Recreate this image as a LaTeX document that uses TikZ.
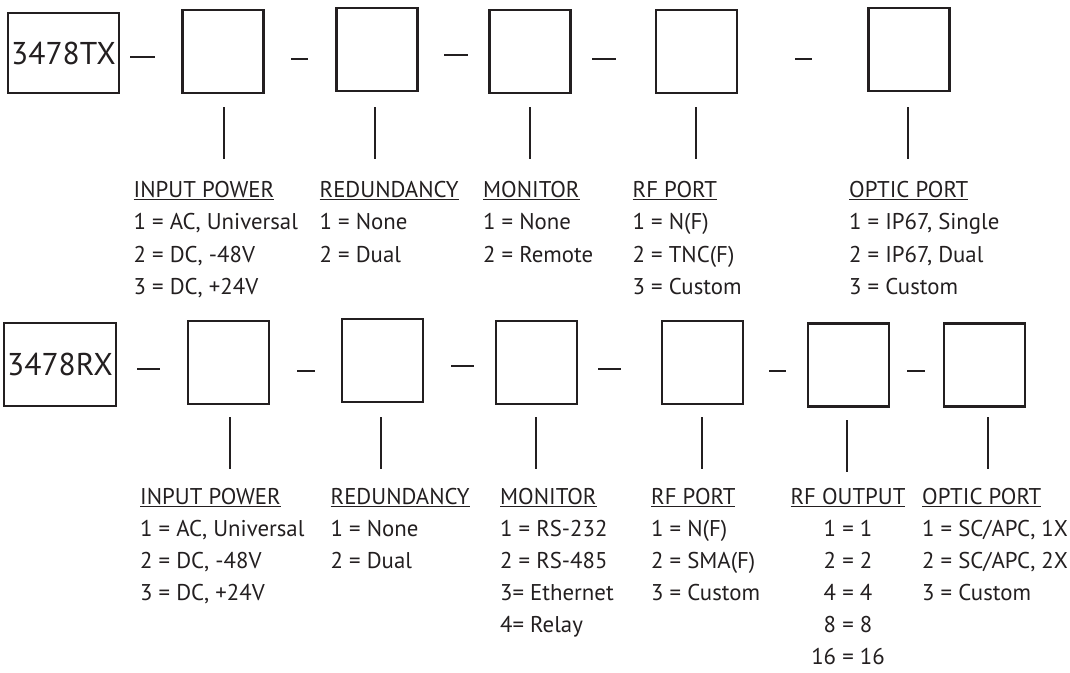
\documentclass[tikz,border=0pt]{standalone}
\usepackage{fontspec}
\setmainfont{PT Sans}
\definecolor{ink}{RGB}{35,31,32}
% heading with a thin rule under it
\newcommand\hdr[1]{\setbox0\hbox{#1}\rlap{\rule[-3pt]{\wd0}{1.2pt}}\box0}
\newcommand\colL[1]{\begin{tabular}[t]{@{}l@{}}#1\end{tabular}}
\newcommand\colC[1]{\begin{tabular}[t]{@{}c@{}}#1\end{tabular}}
\tikzset{
  slot/.style={draw=ink, line width=2.2pt, minimum width=81pt, minimum height=83pt, inner sep=0pt},
  code/.style={draw=ink, line width=1.6pt, inner sep=0pt, text=ink, font=\fontsize{31.5}{38}\selectfont},
  hyph/.style={draw=ink, line width=1.8pt},
  drop/.style={draw=ink, line width=2pt},
  legend/.style={anchor=base west, inner sep=0pt, text=ink, font=\fontsize{22.8}{32.5}\selectfont},
  legendlow/.style={legend, font=\fontsize{22.8}{32}\selectfont},
  legendc/.style={legendlow, anchor=base},
}
\begin{document}
\begin{tikzpicture}[x=1pt, y=-1pt]
\useasboundingbox (0,0) rectangle (1070,672);

% ---------- transmitter part number ----------
\node[code, minimum width=111pt, minimum height=80pt] (tx) at (63.5,53) {3478TX};
\node[slot] (t1) at (223,51.5) {};
\node[slot] (t2) at (377,49.7) {};
\node[slot] (t3) at (530,51.5) {};
\node[slot] (t4) at (696.5,51.5) {};
\node[slot] (t5) at (909,49.5) {};

\foreach \n/\a/\b/\y in {1/130/155/57, 2/291/308/59, 3/444/468/55, 4/592/616/59, 5/795/812/59}{
  \coordinate (tha\n) at (\a,\y);
  \coordinate (thb\n) at (\b,\y);
  \draw[hyph] (tha\n) -- (thb\n);
}
\foreach \n/\x in {1/224, 2/375, 3/530, 4/696, 5/908}{
  \coordinate (tda\n) at (\x,107);
  \coordinate (tdb\n) at (\x,159);
  \draw[drop] (tda\n) -- (tdb\n);
}

\node[legend] (tl1) at (133.5,197) {\colL{\hdr{INPUT POWER}\\1 = AC, Universal\\2 = DC, -48V\\3 = DC, +24V}};
\node[legend] (tl2) at (319.5,197) {\colL{\hdr{REDUNDANCY}\\1 = None\\2 = Dual}};
\node[legend] (tl3) at (483,197) {\colL{\hdr{MONITOR}\\1 = None\\2 = Remote}};
\node[legend] (tl4) at (632.5,197) {\colL{\hdr{RF PORT}\\1 = N(F)\\2 = TNC(F)\\3 = Custom}};
\node[legend] (tl5) at (849,197) {\colL{\hdr{OPTIC PORT}\\1 = IP67, Single\\2 = IP67, Dual\\3 = Custom}};

% ---------- receiver part number ----------
\node[code, minimum width=112pt, minimum height=83pt] (rx) at (60,364.5) {3478RX};
\node[slot] (r1) at (228.7,362.5) {};
\node[slot] (r2) at (382.7,360.5) {};
\node[slot] (r3) at (536.4,362.5) {};
\node[slot] (r4) at (702.8,362.5) {};
\node[slot] (r5) at (848.5,365) {};
\node[slot] (r6) at (984.5,365) {};

\foreach \n/\a/\b/\y in {1/137/160/369, 2/297/315/371, 3/451/474/366, 4/598/621/369, 5/769/786/371, 6/907/925/371}{
  \coordinate (rha\n) at (\a,\y);
  \coordinate (rhb\n) at (\b,\y);
  \draw[hyph] (rha\n) -- (rhb\n);
}
\foreach \n/\x/\t in {1/230/417, 2/381/417, 3/536/417, 4/702/417, 5/847/420, 6/988/417}{
  \coordinate (rda\n) at (\x,\t);
  \coordinate (rdb\n) at (\x,\t+52);
  \draw[drop] (rda\n) -- (rdb\n);
}

\node[legendlow] (rl1) at (140,504) {\colL{\hdr{INPUT POWER}\\1 = AC, Universal\\2 = DC, -48V\\3 = DC, +24V}};
\node[legendlow] (rl2) at (330.5,504) {\colL{\hdr{REDUNDANCY}\\1 = None\\2 = Dual}};
\node[legendlow] (rl3) at (500,504) {\colL{\hdr{MONITOR}\\1 = RS-232\\2 = RS-485\\3= Ethernet\\4= Relay}};
\node[legendlow] (rl4) at (651,504) {\colL{\hdr{RF PORT}\\1 = N(F)\\2 = SMA(F)\\3 = Custom}};
\node[legendc] (rl5) at (848,504) {\colC{\hdr{RF OUTPUT}\\1 = 1\\2 = 2\\4 = 4\\8 = 8\\16 = 16\\[-10pt]}};
\node[legendlow] (rl6) at (922,504) {\colL{\hdr{OPTIC PORT}\\1 = SC/APC, 1X\\2 = SC/APC, 2X\\3 = Custom}};
\end{tikzpicture}
\end{document}
